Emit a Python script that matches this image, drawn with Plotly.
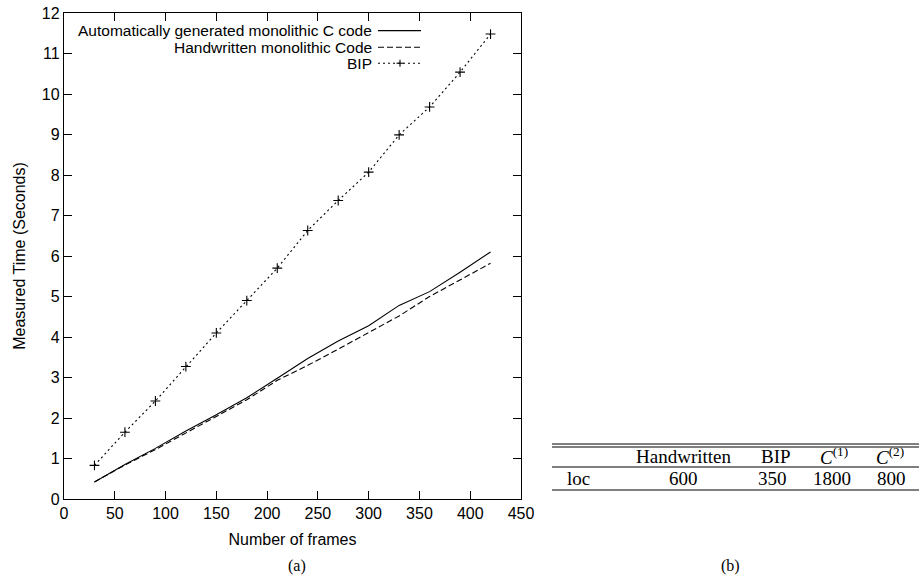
import plotly.graph_objects as go

# ---- data ----
frames = [30, 60, 90, 120, 150, 180, 210, 240, 270, 300, 330, 360, 390, 420]
auto_c = [0.42, 0.85, 1.25, 1.68, 2.08, 2.50, 2.98, 3.47, 3.90, 4.28, 4.78, 5.12, 5.60, 6.10]
handwritten = [0.42, 0.84, 1.22, 1.63, 2.03, 2.45, 2.93, 3.30, 3.70, 4.12, 4.52, 5.00, 5.42, 5.82]
bip = [0.83, 1.65, 2.42, 3.27, 4.10, 4.90, 5.70, 6.63, 7.37, 8.07, 8.99, 9.68, 10.54, 11.48]

series_names = ["Automatically generated monolithic C code",
                "Handwritten monolithic Code", "BIP"]

table_header = ["", "Handwritten", "BIP", "<i>C</i><sup>(1)</sup>", "<i>C</i><sup>(2)</sup>"]
table_row = ["loc", "600", "350", "1800", "800"]

x_ticks = list(range(0, 451, 50))
y_ticks = list(range(0, 13, 1))

# ---- geometry (pixels) ----
W, H = 919, 579
L, R, T, B = 64, 521, 13, 499


def px(xp):
    return (xp - L) / (R - L)


def py(yp):
    return (B - yp) / (B - T)


fig = go.Figure()
fig.add_trace(go.Scatter(x=frames, y=auto_c, mode="lines", name=series_names[0],
                         line=dict(color="black", width=1.1, dash="solid")))
fig.add_trace(go.Scatter(x=frames, y=handwritten, mode="lines", name=series_names[1],
                         line=dict(color="black", width=1.1, dash="6px,3px")))
fig.add_trace(go.Scatter(x=frames, y=bip, mode="lines+markers", name=series_names[2],
                         line=dict(color="black", width=1.1, dash="2px,3px"),
                         marker=dict(symbol="cross-thin", size=7,
                                     line=dict(color="black", width=1.1))))

sans = "Liberation Sans, Arial"
axis_common = dict(showline=True, linecolor="black", linewidth=1.3, mirror="allticks",
                   ticks="inside", ticklen=8, tickcolor="black", tickwidth=1.1,
                   showgrid=False, zeroline=False,
                   tickfont=dict(family=sans, size=16, color="black"))

fig.update_xaxes(range=[0, 450], tickvals=x_ticks, **axis_common,
                 title=dict(text="Number of frames", standoff=12,
                            font=dict(family=sans, size=16, color="black")))
fig.update_yaxes(range=[0, 12], tickvals=y_ticks, **axis_common,
                 title=dict(text="Measured Time (Seconds)", standoff=12,
                            font=dict(family=sans, size=16, color="black")))

annotations = []
shapes = []

# ---- manual gnuplot-style legend ----
leg_font = dict(family=sans, size=15.5, color="black")
leg_rows = [30.6, 47.2, 63.2]
leg_dash = ["solid", "6px,3px", "2px,3px"]
for name, yrow, dsh in zip(series_names, leg_rows, leg_dash):
    annotations.append(dict(x=px(373), y=py(yrow), xref="paper", yref="paper",
                            text=name, showarrow=False, xanchor="right", yanchor="middle",
                            font=leg_font, borderpad=0))
    shapes.append(dict(type="line", xref="paper", yref="paper",
                       x0=px(378), x1=px(421), y0=py(yrow), y1=py(yrow),
                       line=dict(color="black", width=1.1, dash=dsh)))
# plus sign in BIP legend sample
shapes.append(dict(type="line", xref="paper", yref="paper", x0=px(396.5), x1=px(403.5),
                   y0=py(leg_rows[2]), y1=py(leg_rows[2]), line=dict(color="black", width=1.1)))
shapes.append(dict(type="line", xref="paper", yref="paper", x0=px(400), x1=px(400),
                   y0=py(leg_rows[2] - 3.5), y1=py(leg_rows[2] + 3.5),
                   line=dict(color="black", width=1.1)))

# ---- captions ----
cap_font = dict(family="Liberation Serif, Times New Roman", size=16, color="black")
annotations.append(dict(x=px(297), y=py(566), xref="paper", yref="paper", text="(a)",
                        showarrow=False, xanchor="center", yanchor="middle", font=cap_font))
annotations.append(dict(x=px(730), y=py(566), xref="paper", yref="paper", text="(b)",
                        showarrow=False, xanchor="center", yanchor="middle", font=cap_font))

# ---- table (b) ----
tab_font = dict(family="Liberation Serif, Times New Roman", size=19, color="black")
col_x = [578, 683, 776, 834, 890]
row_x = [578, 683, 772, 832, 891]
for txt, cx in zip(table_header, col_x):
    if txt:
        annotations.append(dict(x=px(cx), y=py(456), xref="paper", yref="paper", text=txt,
                                showarrow=False, xanchor="center", yanchor="middle",
                                font=tab_font))
for txt, cx in zip(table_row, row_x):
    annotations.append(dict(x=px(cx), y=py(478), xref="paper", yref="paper", text=txt,
                            showarrow=False, xanchor="center", yanchor="middle",
                            font=tab_font))
for yl in [444, 447, 467, 490]:
    shapes.append(dict(type="line", xref="paper", yref="paper", x0=px(552), x1=px(919),
                       y0=py(yl), y1=py(yl), line=dict(color="black", width=1)))

fig.update_layout(width=W, height=H, margin=dict(l=L, r=W - R, t=T, b=H - B, autoexpand=False),
                  paper_bgcolor="white", plot_bgcolor="white", showlegend=False,
                  annotations=annotations, shapes=shapes)

fig.write_html("out.html", config={"displayModeBar": False},
               post_script="document.body.style.margin='0';")
